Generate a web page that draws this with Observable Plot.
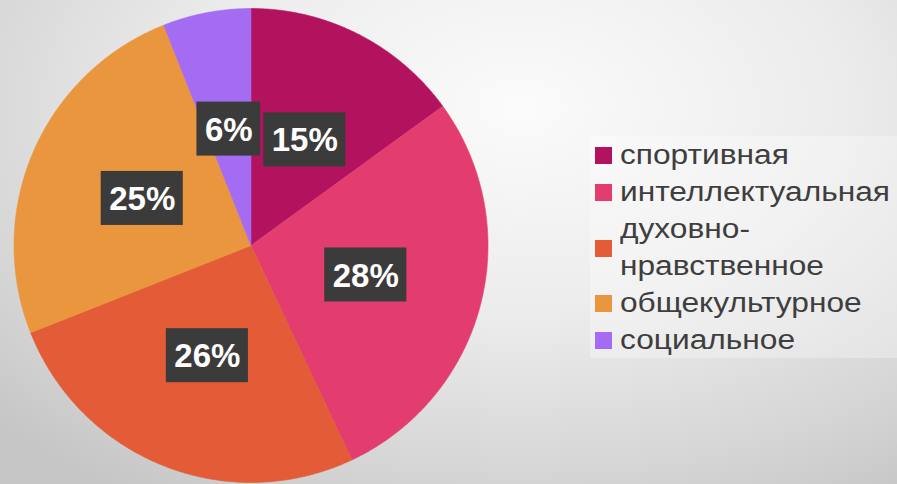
<!DOCTYPE html>
<html><head><meta charset="utf-8">
<script src="https://cdn.jsdelivr.net/npm/d3@7"></script>
<script src="https://cdn.jsdelivr.net/npm/@observablehq/plot@0.6"></script>
<style>
html,body{margin:0;padding:0;}
body{width:897px;height:484px;overflow:hidden;position:relative;font-family:"Liberation Sans",Arial,sans-serif;
background: radial-gradient(ellipse 80% 95% at 58% 22%, #fbfbfb 0%, #ececec 45%, #d4d4d4 82%, #c6c6c6 100%);}
#chart{position:absolute;left:0;top:0;}
#legend{position:absolute;left:590px;top:136px;width:307px;height:222px;background:rgba(255,255,255,0.3);box-sizing:border-box;padding-top:1px;}
.item{display:flex;align-items:center;line-height:37px;padding-left:5px;}
.sw{width:17px;height:17px;flex:none;margin-right:8px;}
.lbl{font-size:27px;color:#3e3e3e;width:235px;transform-origin:0 50%;white-space:normal;}
</style>
</head><body>
<div id="chart"></div>
<div id="legend"></div>
<script>
const categories = ["спортивная","интеллектуальная","духовно-нравственное","общекультурное","социальное"];
const shares = [15,28,26,25,6];
const labels = ["15%","28%","26%","25%","6%"];
const colors = ["#b3125f","#e33d70","#e45b37","#ea963e","#a46cf3"];

const R = 237, CX = 250.5, CY = 245;
const total = d3.sum(shares);
let acc = 0;
const slices = categories.map((c,i)=>{const a0=acc/total*2*Math.PI; acc+=shares[i]; const a1=acc/total*2*Math.PI; return {c,a0,a1,label:labels[i]};});
const pts = [];
for (const s of slices) {
  pts.push({c:s.c,x:0,y:0});
  const n = Math.max(2, Math.ceil((s.a1-s.a0)/(Math.PI/360)));
  for (let k=0;k<=n;k++){const a=s.a0+(s.a1-s.a0)*k/n; pts.push({c:s.c,x:Math.sin(a),y:Math.cos(a)});}
  pts.push({c:s.c,x:0,y:0});
}
const lab = slices.map(s=>{const m=(s.a0+s.a1)/2; return {text:s.label,x:0.5*Math.sin(m),y:0.5*Math.cos(m),w:16+18.4*(s.label.length-1)+29.3};});

const plot = Plot.plot({
  width:897, height:484, margin:0,
  style:{background:"transparent"},
  x:{domain:[-1,1], range:[CX-R, CX+R], axis:null},
  y:{domain:[-1,1], range:[CY+R, CY-R], axis:null},
  color:{domain:categories, range:colors},
  marks:[
    Plot.line(pts,{x:"x",y:"y",z:"c",fill:"c",stroke:"c",strokeWidth:0.6,curve:"linear"}),
    Plot.rect(lab,{x1:d=>d.x-d.w/2/R,x2:d=>d.x+d.w/2/R,y1:d=>d.y-27/R,y2:d=>d.y+27/R,fill:"#3b3b3b"}),
    Plot.text(lab,{x:"x",y:"y",text:"text",fill:"white",fontSize:33,fontWeight:"bold",fontFamily:"Liberation Sans, Arial, sans-serif",dy:1})
  ]
});
document.getElementById("chart").appendChild(plot);

const leg = document.getElementById("legend");
categories.forEach((c,i)=>{
  const it=document.createElement("div");it.className="item";
  const sw=document.createElement("div");sw.className="sw";sw.style.background=colors[i];
  const t=document.createElement("div");t.className="lbl";t.textContent=c;
  it.appendChild(sw);it.appendChild(t);leg.appendChild(it);
});
// stretch legend text horizontally to match reference proportions
const probe=document.createElement("span");probe.style.cssText="font-size:27px;font-family:'Liberation Sans',Arial,sans-serif;position:absolute;visibility:hidden;white-space:nowrap";
probe.textContent=categories[1];document.body.appendChild(probe);
const k=270/probe.getBoundingClientRect().width;probe.remove();
document.querySelectorAll(".lbl").forEach(e=>e.style.transform=`scaleX(${k})`);
</script>
</body></html>
